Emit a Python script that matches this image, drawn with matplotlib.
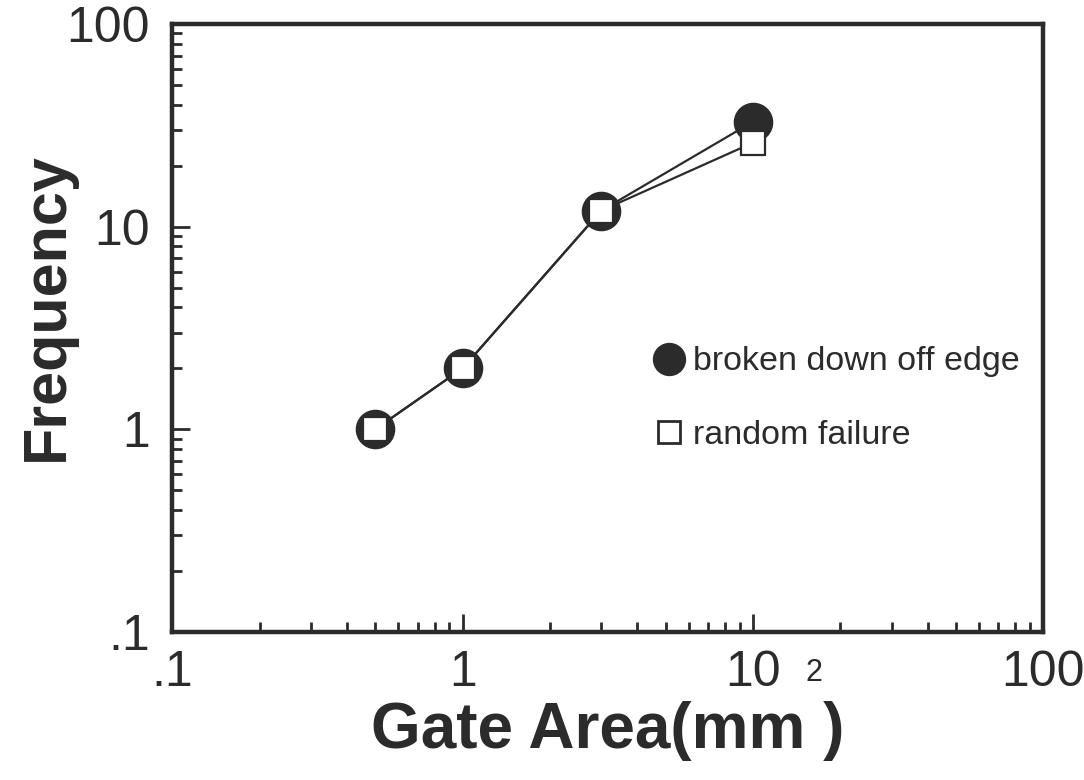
import matplotlib
matplotlib.use("Agg")
import matplotlib.pyplot as plt
from matplotlib.lines import Line2D

plt.rcParams["font.family"] = ["Liberation Sans", "DejaVu Sans"]

# ── Data ────────────────────────────────────────────────────────
gate_area = [0.5, 1, 3, 10]              # mm^2
freq_edge = [1, 2, 12, 33]               # broken down off edge
freq_random = [1, 2, 12, 26]             # random failure

x_ticks = [0.1, 1, 10, 100]
x_ticklabels = [".1", "1", "10", "100"]
y_ticks = [0.1, 1, 10, 100]
y_ticklabels = [".1", "1", "10", "100"]

INK = "#2b2b2b"

fig = plt.figure(figsize=(10.84, 7.8), dpi=100)
ax = fig.add_axes([0.159, 0.19, 0.8035, 0.779])

ax.plot(gate_area, freq_edge, "-o", color=INK, lw=1.6,
        ms=27.5, mfc=INK, mec=INK, zorder=3)
ax.plot(gate_area, freq_random, "-s", color=INK, lw=1.6,
        ms=17, mfc="white", mec=INK, mew=1.6, zorder=4)

ax.set_xscale("log")
ax.set_yscale("log")
ax.set_xlim(0.1, 100)
ax.set_ylim(0.1, 100)
ax.set_xticks(x_ticks)
ax.set_xticklabels(x_ticklabels)
ax.set_yticks(y_ticks)
ax.set_yticklabels(y_ticklabels)

for side in ax.spines.values():
    side.set_linewidth(3.2)
    side.set_color(INK)

ax.tick_params(which="both", direction="in", top=False, right=False,
               color=INK, width=2)
ax.tick_params(which="major", length=13, labelsize=36, pad=13,
               labelcolor=INK)
ax.tick_params(which="minor", length=7)
ax.tick_params(axis="y", which="major", pad=16)

# axis titles; the squared unit gets a small raised "2"
xlab = ax.set_xlabel("Gate Area(mm )", fontsize=46, fontweight="bold",
                     color=INK, labelpad=4)
ax.annotate("2", xy=(1.0, 1.0), xycoords=xlab, xytext=(-22, 10),
            textcoords="offset points", ha="center", va="bottom",
            fontsize=22, color=INK)
ax.set_ylabel("Frequency", fontsize=44, fontweight="bold", color=INK)
ax.yaxis.set_label_coords(-0.111, 0.535)

handles = [
    Line2D([], [], ls="none", marker="o", ms=23, mfc=INK, mec=INK),
    Line2D([], [], ls="none", marker="s", ms=16, mfc="white", mec=INK,
           mew=2),
]
ax.legend(handles, ["broken down off edge", "random failure"],
          loc="upper left", bbox_to_anchor=(0.512, 0.52), frameon=False,
          fontsize=24.5, handletextpad=0.1, labelspacing=1.25,
          handlelength=1.2, labelcolor=INK)

fig.savefig("out.png", dpi=100, facecolor="white")
